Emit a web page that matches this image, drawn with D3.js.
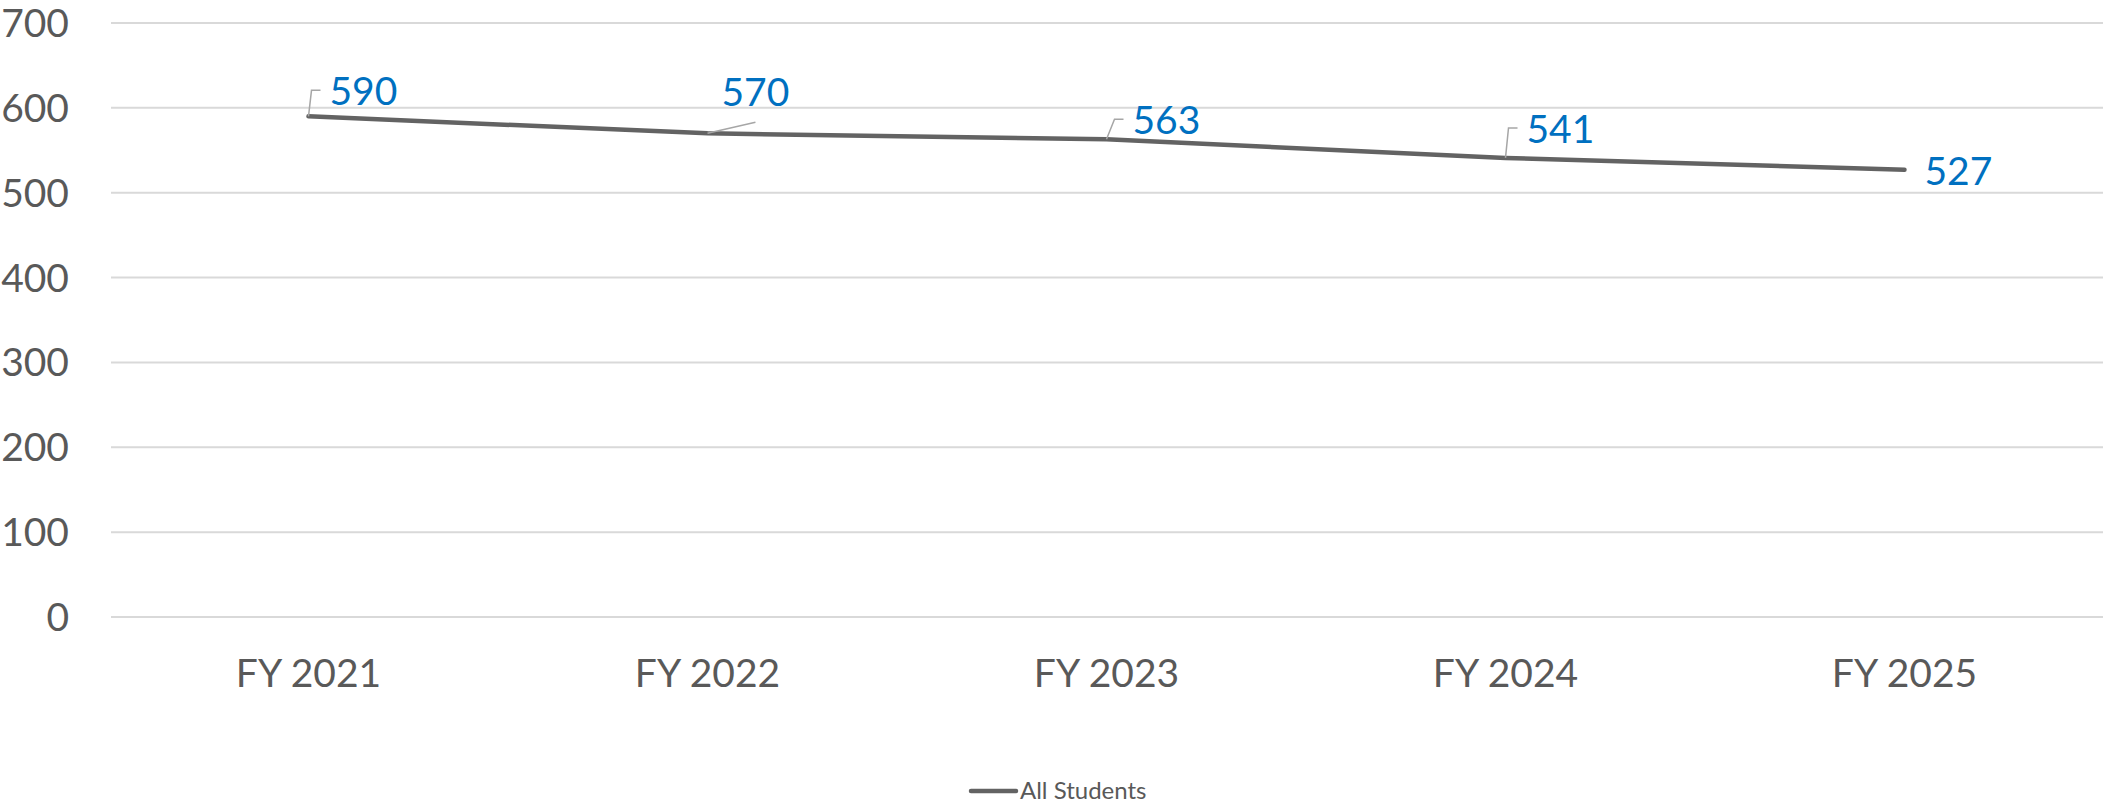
<!DOCTYPE html>
<html>
<head>
<meta charset="utf-8">
<script src="https://cdn.jsdelivr.net/npm/d3@7"></script>
<style>
  html, body { margin: 0; padding: 0; background: #fff; }
  svg { display: block; }
</style>
</head>
<body>
<svg id="chart" width="2103" height="806"></svg>
<script>
const categories = ["FY 2021", "FY 2022", "FY 2023", "FY 2024", "FY 2025"];
const allStudents = [590, 570, 563, 541, 527];
const yTicks = [0, 100, 200, 300, 400, 500, 600, 700];
const seriesName = "All Students";

// label placement (pixel offsets from the point: text left, baseline), and leader style
const labelLayout = [
  { dx: 21, dy: -11, leader: "elbow" },
  { dx: 14, dy: -27, leader: "bottom" },
  { dx: 26, dy: -5,  leader: "elbow" },
  { dx: 21, dy: -15, leader: "elbow" },
  { dx: 20, dy: 15,  leader: "none" }
];

const svg = d3.select("#chart");
const FONT = "Lato, 'Open Sans', sans-serif";
const x = d3.scalePoint().domain(categories).range([109, 2104]).padding(0.5);
const y = d3.scaleLinear().domain([0, 700]).range([617, 23]);

// gridlines
svg.append("g").selectAll("line").data(yTicks).join("line")
  .attr("x1", 111).attr("x2", 2103)
  .attr("y1", d => y(d)).attr("y2", d => y(d))
  .attr("stroke", "#D9D9D9").attr("stroke-width", 2);

// y axis labels
svg.append("g").selectAll("text").data(yTicks).join("text")
  .attr("x", 69).attr("y", d => y(d) + 14)
  .attr("text-anchor", "end")
  .attr("font-family", FONT).attr("font-size", 39)
  .attr("fill", "#595959")
  .text(d => d);

// x axis labels
svg.append("g").selectAll("text").data(categories).join("text")
  .attr("x", d => x(d)).attr("y", 687)
  .attr("text-anchor", "middle")
  .attr("font-family", FONT).attr("font-size", 39)
  .attr("fill", "#595959")
  .text(d => d);

const pts = categories.map((c, i) => ({ c, v: allStudents[i], px: x(c), py: y(allStudents[i]), lay: labelLayout[i] }));

// line
const line = d3.line().x(d => d.px).y(d => d.py);
svg.append("path").datum(pts)
  .attr("d", line)
  .attr("fill", "none")
  .attr("stroke", "#636363")
  .attr("stroke-width", 4.5)
  .attr("stroke-linecap", "round")
  .attr("stroke-linejoin", "round");

// data labels
const lbl = svg.append("g");
pts.forEach(p => {
  const t = lbl.append("text")
    .attr("x", p.px + p.lay.dx).attr("y", p.py + p.lay.dy)
    .attr("font-family", FONT).attr("font-size", 39)
    .attr("fill", "#0070C0")
    .text(p.v);
  const bb = t.node().getBBox();
  const left = p.px + p.lay.dx;
  const base = p.py + p.lay.dy;
  if (p.lay.leader === "elbow") {
    const endX = left - 9, cornerX = endX - 9, ly = base - 15;
    lbl.append("path")
      .attr("d", `M${p.px},${p.py} L${cornerX},${ly} L${endX},${ly}`)
      .attr("fill", "none").attr("stroke", "#A6A6A6").attr("stroke-width", 1.5);
  } else if (p.lay.leader === "bottom") {
    lbl.append("path")
      .attr("d", `M${p.px},${p.py} L${left + bb.width / 2},${base + 16}`)
      .attr("fill", "none").attr("stroke", "#A6A6A6").attr("stroke-width", 1.5);
  }
});

// legend
const lg = svg.append("g");
lg.append("line").attr("x1", 971).attr("x2", 1016).attr("y1", 791).attr("y2", 791)
  .attr("stroke", "#636363").attr("stroke-width", 4.5).attr("stroke-linecap", "round");
lg.append("text").attr("x", 1020).attr("y", 799)
  .attr("font-family", FONT).attr("font-size", 24).attr("fill", "#595959")
  .text(seriesName);
</script>
</body>
</html>
